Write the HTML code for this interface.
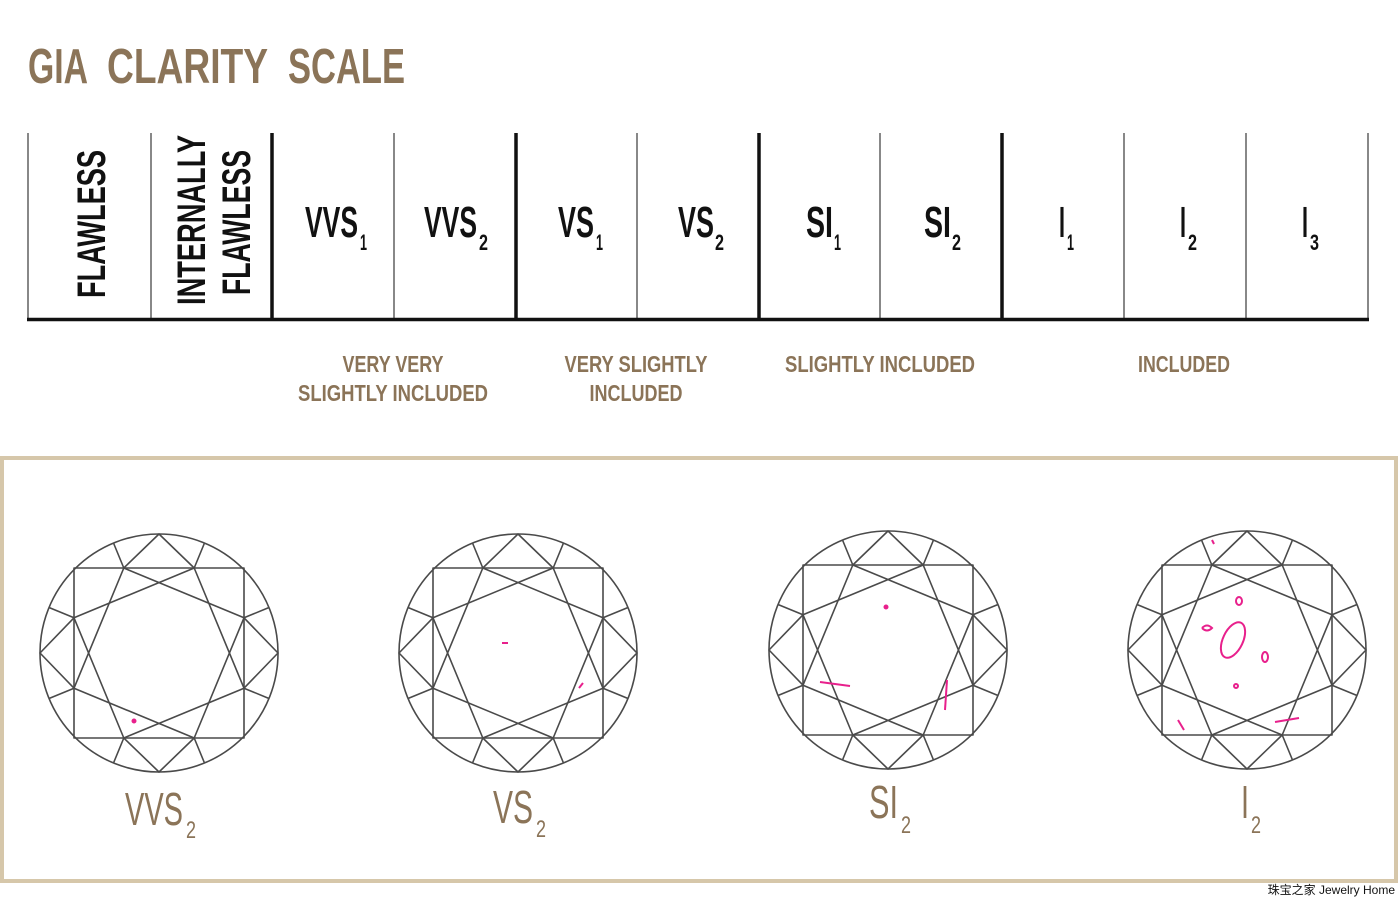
<!DOCTYPE html>
<html><head><meta charset="utf-8"><style>
html,body{margin:0;padding:0;background:#fff;width:1400px;height:900px;overflow:hidden}
svg{display:block}
text{font-family:"Liberation Sans","Noto Sans CJK SC",sans-serif}
</style></head><body>
<svg width="1400" height="900" viewBox="0 0 1400 900" xmlns="http://www.w3.org/2000/svg">
<defs>
<g id="dia" fill="none" stroke="#4a4a4a" stroke-width="1.6" stroke-linejoin="round">
  <circle cx="0" cy="0" r="119"/>
  <rect x="-85" y="-85" width="170" height="170"/>
  <polygon points="-35.2,-85 85,-35.2 35.2,85 -85,35.2"/>
  <polygon points="35.2,-85 85,35.2 -35.2,85 -85,-35.2"/>
  <polyline points="-35.2,-85 0,-119 35.2,-85"/>
  <polyline points="85,-35.2 119,0 85,35.2"/>
  <polyline points="35.2,85 0,119 -35.2,85"/>
  <polyline points="-85,35.2 -119,0 -85,-35.2"/>
  <path d="M35.2,-85L45.5,-110M85,-35.2L110,-45.5M85,35.2L110,45.5M35.2,85L45.5,110M-35.2,85L-45.5,110M-85,35.2L-110,45.5M-85,-35.2L-110,-45.5M-35.2,-85L-45.5,-110"/>
</g>
</defs>

<g font-size="49" font-weight="bold" fill="#8b7458">
  <text x="28" y="83" textLength="60" lengthAdjust="spacingAndGlyphs">GIA</text>
  <text x="107" y="83" textLength="161" lengthAdjust="spacingAndGlyphs">CLARITY</text>
  <text x="288" y="83" textLength="117" lengthAdjust="spacingAndGlyphs">SCALE</text>
</g>

<g stroke="#888" stroke-width="2">
  <line x1="151" y1="133" x2="151" y2="320"/>
  <line x1="394" y1="133" x2="394" y2="320"/>
  <line x1="637" y1="133" x2="637" y2="320"/>
  <line x1="880" y1="133" x2="880" y2="320"/>
  <line x1="1124" y1="133" x2="1124" y2="320"/>
  <line x1="1246" y1="133" x2="1246" y2="320"/>
  <line x1="1368" y1="133" x2="1368" y2="320"/>
  <line x1="28" y1="133" x2="28" y2="320"/>
</g>
<g stroke="#111" stroke-width="3.5">
  <line x1="272" y1="133" x2="272" y2="320"/>
  <line x1="516" y1="133" x2="516" y2="320"/>
  <line x1="759" y1="133" x2="759" y2="320"/>
  <line x1="1002" y1="133" x2="1002" y2="320"/>
  <line x1="27" y1="319.5" x2="1369" y2="319.5"/>
</g>

<g fill="#111" font-weight="bold">
  <text transform="translate(105,298) rotate(-90)" font-size="40" textLength="148" lengthAdjust="spacingAndGlyphs">FLAWLESS</text>
  <text transform="translate(205,305) rotate(-90)" font-size="40" textLength="170" lengthAdjust="spacingAndGlyphs">INTERNALLY</text>
  <text transform="translate(250,295) rotate(-90)" font-size="40" textLength="145" lengthAdjust="spacingAndGlyphs">FLAWLESS</text>

  <text x="305" y="237" font-size="44" textLength="53" lengthAdjust="spacingAndGlyphs">VVS</text><text x="360" y="250" font-size="22" textLength="7" lengthAdjust="spacingAndGlyphs">1</text>
  <text x="424" y="237" font-size="44" textLength="53" lengthAdjust="spacingAndGlyphs">VVS</text><text x="479" y="250" font-size="22" textLength="9" lengthAdjust="spacingAndGlyphs">2</text>
  <text x="558" y="237" font-size="44" textLength="36" lengthAdjust="spacingAndGlyphs">VS</text><text x="596" y="250" font-size="22" textLength="7" lengthAdjust="spacingAndGlyphs">1</text>
  <text x="678" y="237" font-size="44" textLength="36" lengthAdjust="spacingAndGlyphs">VS</text><text x="715" y="250" font-size="22" textLength="9" lengthAdjust="spacingAndGlyphs">2</text>
  <text x="806" y="237" font-size="44" textLength="27" lengthAdjust="spacingAndGlyphs">SI</text><text x="834" y="250" font-size="22" textLength="7" lengthAdjust="spacingAndGlyphs">1</text>
  <text x="924" y="237" font-size="44" textLength="27" lengthAdjust="spacingAndGlyphs">SI</text><text x="952" y="250" font-size="22" textLength="9" lengthAdjust="spacingAndGlyphs">2</text>
  <text x="1059" y="237" font-size="44" textLength="6" lengthAdjust="spacingAndGlyphs">I</text><text x="1067" y="250" font-size="22" textLength="7" lengthAdjust="spacingAndGlyphs">1</text>
  <text x="1180" y="237" font-size="44" textLength="6" lengthAdjust="spacingAndGlyphs">I</text><text x="1188" y="250" font-size="22" textLength="9" lengthAdjust="spacingAndGlyphs">2</text>
  <text x="1302" y="237" font-size="44" textLength="6" lengthAdjust="spacingAndGlyphs">I</text><text x="1310" y="250" font-size="22" textLength="9" lengthAdjust="spacingAndGlyphs">3</text>
</g>

<g fill="#8b7458" font-weight="bold" font-size="23" text-anchor="middle">
  <text x="393" y="372" textLength="101" lengthAdjust="spacingAndGlyphs">VERY VERY</text>
  <text x="393" y="401" textLength="190" lengthAdjust="spacingAndGlyphs">SLIGHTLY INCLUDED</text>
  <text x="636" y="372" textLength="143" lengthAdjust="spacingAndGlyphs">VERY SLIGHTLY</text>
  <text x="636" y="401" textLength="93" lengthAdjust="spacingAndGlyphs">INCLUDED</text>
  <text x="880" y="372" textLength="190" lengthAdjust="spacingAndGlyphs">SLIGHTLY INCLUDED</text>
  <text x="1184" y="372" textLength="92" lengthAdjust="spacingAndGlyphs">INCLUDED</text>
</g>

<rect x="2" y="458" width="1394" height="423" fill="none" stroke="#d6c7aa" stroke-width="4"/>

<use href="#dia" transform="translate(159,653)"/>
<use href="#dia" transform="translate(518,653)"/>
<use href="#dia" transform="translate(888,650)"/>
<use href="#dia" transform="translate(1247,650)"/>

<g fill="none" stroke="#e8208c" stroke-width="2">
  <circle cx="134" cy="721" r="1.5" fill="#e8208c"/>
  <line x1="502" y1="643" x2="508" y2="643"/>
  <line x1="579" y1="688" x2="583" y2="683"/>
  <circle cx="886" cy="607" r="1.5" fill="#e8208c"/>
  <path d="M820,682 L850,686"/>
  <path d="M947,680 L945,710"/>
  <ellipse cx="1233" cy="640" rx="10" ry="19" transform="rotate(25 1233 640)"/>
  <ellipse cx="1265" cy="657" rx="3" ry="5"/>
  <ellipse cx="1239" cy="601" rx="3" ry="4"/>
  <path d="M1202,628 q5,-5 10,0 q-5,5 -10,0"/>
  <circle cx="1236" cy="686" r="2"/>
  <path d="M1178,720 l6,10"/>
  <path d="M1275,722 l24,-4"/>
  <path d="M1212,540 l2,4"/>
</g>

<g fill="#8b7458" font-size="46">
  <text x="125" y="825" textLength="58" lengthAdjust="spacingAndGlyphs">VVS</text><text x="186" y="838" font-size="24" textLength="10" lengthAdjust="spacingAndGlyphs">2</text>
  <text x="493" y="823" textLength="40" lengthAdjust="spacingAndGlyphs">VS</text><text x="536" y="837" font-size="24" textLength="10" lengthAdjust="spacingAndGlyphs">2</text>
  <text x="869" y="818" textLength="29" lengthAdjust="spacingAndGlyphs">SI</text><text x="901" y="833" font-size="24" textLength="10" lengthAdjust="spacingAndGlyphs">2</text>
  <text x="1241" y="818" textLength="8" lengthAdjust="spacingAndGlyphs">I</text><text x="1251" y="833" font-size="24" textLength="10" lengthAdjust="spacingAndGlyphs">2</text>
</g>

<text x="1395" y="894" font-size="12" fill="#111" text-anchor="end">珠宝之家 Jewelry Home</text>
</svg>
</body></html>
